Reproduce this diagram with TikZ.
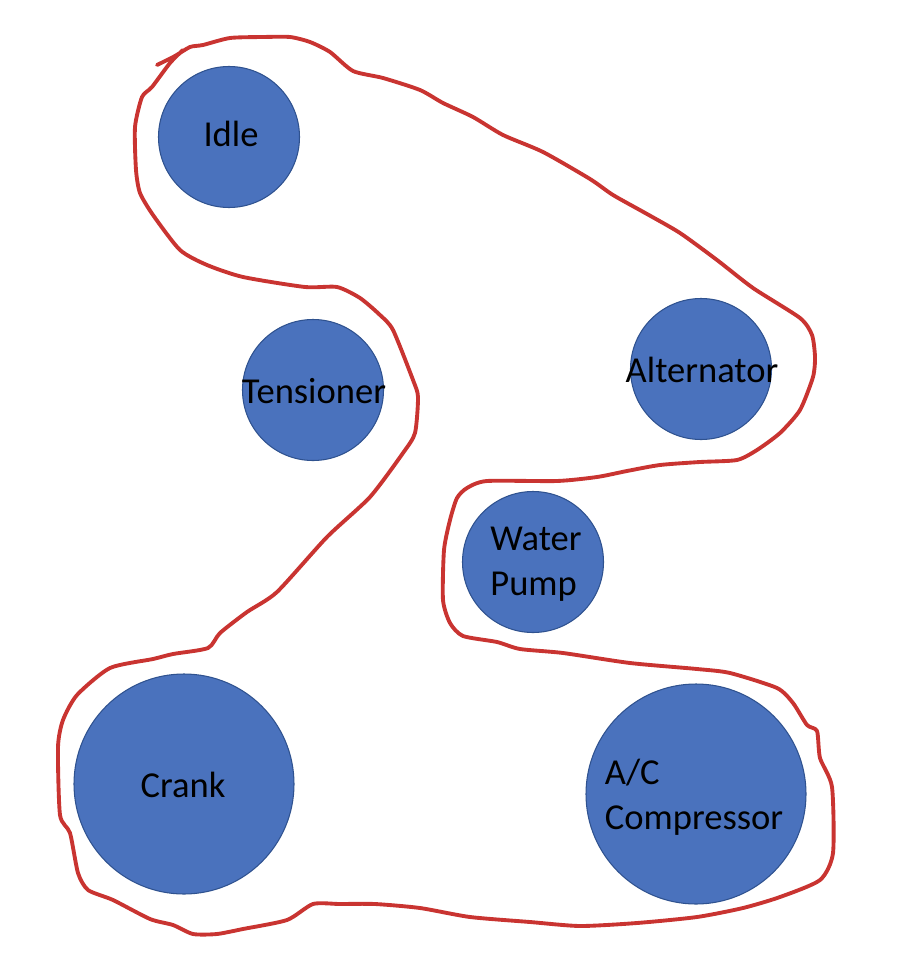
\documentclass[tikz,border=0pt]{standalone}
\usepackage{fontspec}
\setmainfont{Carlito}
\tikzset{
  pulley/.style={circle,draw=pulleyedge,fill=pulleyblue,line width=0.6pt,inner sep=0pt,minimum size=#1*0.02cm},
  lbl/.style={font=\fontsize{20.8}{25.9}\selectfont,text=black,align=left},
  belt/.style={draw=beltred,line width=2.2pt,line join=round,line cap=round}
}
\definecolor{pulleyblue}{HTML}{4A72BD}
\definecolor{pulleyedge}{HTML}{2F528F}
\definecolor{beltred}{HTML}{C93431}
\begin{document}
\begin{tikzpicture}[x=0.02cm,y=-0.02cm]
\useasboundingbox (0,0) rectangle (918,980);
\node[pulley=141] (idle) at (229,137) {};
\node[pulley=141] (tens) at (313,390) {};
\node[pulley=141] (alt) at (701,369) {};
\node[pulley=141] (water) at (533,562) {};
\node[pulley=220] (crank) at (184,784) {};
\node[pulley=220] (ac) at (696,794) {};
\node[lbl] (t1) at (231,134) {Idle};
\node[lbl] (t2) at (314,391) {Tensioner};
\node[lbl] (t3) at (702,370) {Alternator};
\node[lbl] (t4) at (536,564) {Water\\Pump};
\node[lbl] (t5) at (183,785) {Crank};
\node[lbl] (t6) at (694,797) {A/C\\Compressor};
\draw[belt] plot[smooth,tension=0.4] coordinates {(157,65)(175,56)(190,47)(203,45)(230,38)(263,37)(290,37)(310,42)(330,52)(353,71)(383,78)(420,90)(443,103)(473,117)(503,135)(543,152)(590,179)(613,195)(647,214)(680,233)(717,260)(753,288)(800,318)(812,335)(815,357)(813,377)(800,410)(780,433)(757,450)(737,460)(700,462)(660,465)(627,471)(597,477)(557,481)(487,481)(467,488)(457,498)(450,520)(444,550)(443,600)(450,623)(463,636)(497,642)(520,649)(563,653)(630,663)(697,669)(730,673)(777,688)(793,703)(807,725)(817,731)(820,758)(832,787)(833,853)(820,880)(780,897)(743,908)(697,917)(637,923)(580,926)(530,922)(470,917)(420,908)(375,904)(340,904)(313,904)(287,920)(243,929)(217,934)(193,934)(173,925)(150,919)(113,900)(88,890)(78,873)(70,833)(60,815)(58,747)(63,720)(77,695)(110,668)(153,659)(173,654)(208,648)(220,633)(247,612)(277,592)(327,537)(370,497)(403,453)(415,433)(418,397)(413,380)(393,330)(380,315)(360,298)(337,287)(305,287)(243,277)(207,265)(180,250)(153,215)(140,193)(136,170)(135,127)(142,97)(152,87)(170,63)(183,50)};
\end{tikzpicture}
\end{document}
